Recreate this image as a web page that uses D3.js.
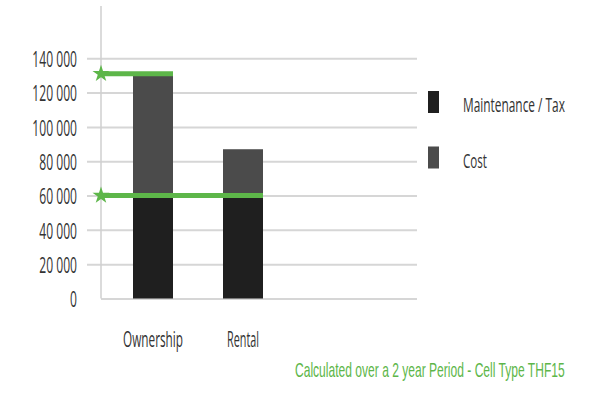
<!DOCTYPE html>
<html lang="en">
<head>
    <meta charset="UTF-8">
    <title>Ownership vs Rental</title>
    <script src="https://d3js.org/d3.v7.min.js"></script>
    <style>
        body { margin: 0; background: #fff; }
        text { font-family: "Open Sans", sans-serif; fill: #333; }
    </style>
</head>
<body>
    <div id="chart"></div>
    <script>
        // Data
        const categories = ["Ownership", "Rental"];
        const maintenance = [60000, 60000];
        const cost = [70000, 27000];
        const yTicks = [0, 20000, 40000, 60000, 80000, 100000, 120000, 140000];
        const seriesNames = ["Maintenance / Tax", "Cost"];
        // green marker lines: value and the last category they reach
        const markerValues = [131000, 60000];
        const markerReach = ["Ownership", "Rental"];
        const footnote = "Calculated over a 2 year Period - Cell Type THF15";

        const width = 600, height = 400;
        const colors = { maint: "#1f1f1f", cost: "#4b4b4b", green: "#5db649", grid: "#d6d6d6", axis: "#cfcfcf" };
        const axisX = 101;
        const squeeze = 0.55;

        const svg = d3.select("#chart").append("svg")
            .attr("width", width)
            .attr("height", height);

        // squeeze a text horizontally so it spans the given width (the source font is very narrow)
        function fit(sel, w, anchorX, baseY) {
            sel.each(function (d, i) {
                const t = d3.select(this);
                const natural = this.getComputedTextLength();
                const tw = typeof w === "function" ? w(d, i) : w;
                const ax = typeof anchorX === "function" ? anchorX(d, i) : anchorX;
                t.attr("x", 0).attr("y", 0)
                    .attr("transform", `translate(${ax},${baseY}) scale(${tw / natural},1)`);
            });
        }

        const y = d3.scaleLinear().domain([0, 140000]).range([298.5, 58.3]);
        const x = d3.scaleBand().domain(categories).range([108, 288])
            .paddingInner(0.5556).paddingOuter(0.2778);

        // gridlines + tick labels
        const yAxis = svg.append("g")
            .attr("transform", `translate(${axisX},0)`)
            .call(d3.axisLeft(y).tickValues(yTicks).tickSize(0)
                .tickFormat(d => d3.format(",")(d).replace(/,/g, " ")));
        yAxis.select(".domain").remove();
        yAxis.selectAll(".tick line").remove();
        yAxis.selectAll(".tick").append("line")
            .attr("x1", d => d === 0 ? 0 : -14)
            .attr("x2", 316)
            .attr("stroke", colors.grid)
            .attr("stroke-width", 2);
        yAxis.selectAll(".tick text")
            .attr("x", 0)
            .attr("dy", "0.38em")
            .attr("transform", `translate(-24,0) scale(${squeeze},1)`)
            .style("font-size", "22px")
            .style("fill", "#333");

        // vertical axis line
        svg.append("line")
            .attr("x1", axisX).attr("x2", axisX)
            .attr("y1", 6).attr("y2", y(0))
            .attr("stroke", colors.axis)
            .attr("stroke-width", 1.5);

        // stacked bars
        const stackData = categories.map((c, i) => ({ cat: c, maint: maintenance[i], cost: cost[i] }));
        const stacked = d3.stack().keys(["maint", "cost"])(stackData);
        svg.append("g").selectAll("g")
            .data(stacked)
            .join("g")
            .attr("fill", d => colors[d.key])
            .selectAll("rect")
            .data(d => d)
            .join("rect")
            .attr("x", d => x(d.data.cat))
            .attr("width", x.bandwidth())
            .attr("y", d => y(d[1]))
            .attr("height", d => y(d[0]) - y(d[1]));

        // green marker lines with stars
        const star = d3.symbol().type(d3.symbolStar).size(90);
        markerValues.forEach((v, i) => {
            svg.append("line")
                .attr("x1", axisX)
                .attr("x2", x(markerReach[i]) + x.bandwidth())
                .attr("y1", y(v)).attr("y2", y(v))
                .attr("stroke", colors.green)
                .attr("stroke-width", 5);
            svg.append("path")
                .attr("d", star)
                .attr("transform", `translate(${axisX},${y(v)})`)
                .attr("fill", colors.green);
        });

        // category labels
        const catWidths = { Ownership: 60, Rental: 32 };
        svg.append("g").selectAll("text")
            .data(categories)
            .join("text")
            .attr("text-anchor", "middle")
            .style("font-size", "21px")
            .text(d => d)
            .call(fit, d => catWidths[d], d => x(d) + x.bandwidth() / 2, 347);

        // legend
        const legendWidths = [102, 24];
        const legend = svg.append("g").selectAll("g")
            .data(seriesNames)
            .join("g")
            .attr("transform", (d, i) => `translate(428,${91 + i * 55.5})`);
        legend.append("rect")
            .attr("width", 11)
            .attr("height", 22)
            .attr("fill", (d, i) => i === 0 ? colors.maint : colors.cost);
        legend.append("text")
            .style("font-size", "20px")
            .text(d => d)
            .call(fit, (d, i) => legendWidths[i], 35, 21);

        // footnote
        svg.append("text")
            .style("font-family", "'Liberation Sans', Arial, sans-serif")
            .style("font-size", "20px")
            .style("fill", colors.green)
            .text(footnote)
            .call(fit, 270, 295, 377);
    </script>
</body>
</html>
